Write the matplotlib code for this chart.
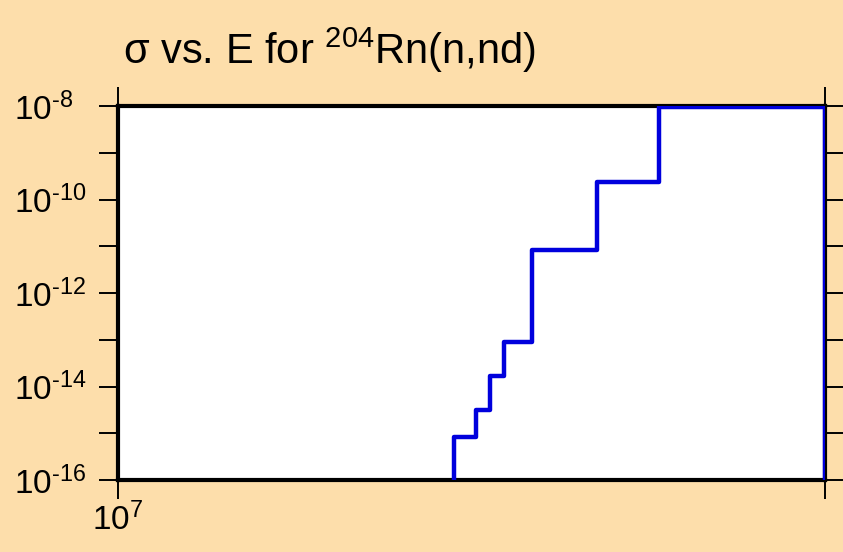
import math
import matplotlib.pyplot as plt
from matplotlib.ticker import FixedLocator, FuncFormatter, NullFormatter

plt.rcParams['font.family'] = ['Liberation Sans', 'DejaVu Sans']
plt.rcParams['mathtext.fontset'] = 'custom'
plt.rcParams['mathtext.rm'] = 'Liberation Sans'
plt.rcParams['mathtext.it'] = 'Liberation Sans:italic'
plt.rcParams['mathtext.bf'] = 'Liberation Sans:bold'

# energy (eV) and cross section (step, post)
energy = [1.0e7, 1.39e7, 1.42e7, 1.44e7, 1.46e7, 1.50e7, 1.60e7, 1.70e7, 2.0e7]
sigma = [1e-30, 8.4e-16, 3.1e-15, 1.7e-14, 9.1e-14, 8.5e-12, 2.4e-10, 9.5e-9, 1e-30]

y_major = [1e-16, 1e-14, 1e-12, 1e-10, 1e-8]
y_minor = [1e-15, 1e-13, 1e-11, 1e-9]
x_ticks = [1e7, 2e7]
title = 'σ vs. E for $^{204}$Rn(n,nd)'


def ylab(v, pos):
    return r'$10^{\text{%d}}$' % round(math.log10(v))


def xlab(v, pos):
    return r'$10^{7}$' if v == 1e7 else ''


bg = '#fddeab'
fig = plt.figure(figsize=(8.43, 5.52), dpi=100, facecolor=bg)
ax = fig.add_axes([118 / 843, 1 - 480 / 552, 707 / 843, 374 / 552])
ax.set_facecolor('white')

ax.step(energy, sigma, where='post', color='#0000dd', lw=3.2, zorder=3)

ax.set_xscale('log')
ax.set_yscale('log')
ax.set_xlim(1e7, 2e7)
ax.set_ylim(1e-16, 1e-8)

ax.yaxis.set_major_locator(FixedLocator(y_major))
ax.yaxis.set_minor_locator(FixedLocator(y_minor))
ax.yaxis.set_major_formatter(FuncFormatter(ylab))
ax.yaxis.set_minor_formatter(NullFormatter())
ax.xaxis.set_major_locator(FixedLocator(x_ticks))
ax.xaxis.set_minor_locator(FixedLocator([]))
ax.xaxis.set_major_formatter(FuncFormatter(xlab))

for s in ax.spines.values():
    s.set_linewidth(3.0)
    s.set_color('black')

ax.tick_params(which='both', direction='out', length=14, width=1.4, colors='black',
               labelsize=24, top=True, right=True)
ax.tick_params(axis='y', pad=61)
ax.tick_params(axis='x', pad=2)
for lab in ax.get_yticklabels():
    lab.set_horizontalalignment('left')

fig.text(123 / 843, 1 - 64 / 552, title, fontsize=30, ha='left', va='baseline')

fig.savefig('out.png', dpi=100, facecolor=bg)
